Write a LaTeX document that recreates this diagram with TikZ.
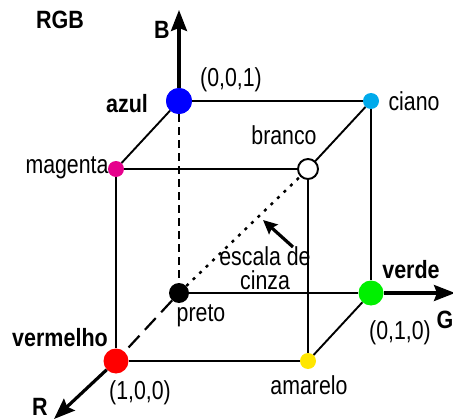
\documentclass[tikz,border=0pt]{standalone}
\usepackage{fontspec}
\setmainfont{Liberation Sans}[FakeStretch=0.82, BoldFeatures={FakeStretch=0.86}]
\usetikzlibrary{arrows.meta}

\definecolor{cyanc}{RGB}{0,170,235}
\definecolor{magc}{RGB}{230,0,140}
\definecolor{greenc}{RGB}{0,240,0}
\definecolor{yellowc}{RGB}{255,230,0}

\begin{document}
\begin{tikzpicture}[x=1pt, y=-1pt,
    corner/.style={circle, inner sep=0pt, minimum size=#1},
    edge/.style={line width=1.9pt},
    axis/.style={line width=3.2pt, -{Stealth[length=21pt, width=16pt, inset=3pt]}},
    txt/.style={font=\fontsize{26}{28}\selectfont, inner sep=0pt, align=center},
    btxt/.style={font=\fontsize{25}{28}\selectfont\bfseries, inner sep=0pt}
]
\useasboundingbox (0,0) rectangle (453,420);

% cube corners
\node[corner=26pt, fill=blue] (azul) at (179,101) {};
\node[corner=16pt, fill=cyanc] (ciano) at (371,101) {};
\node[corner=16pt, fill=magc] (magenta) at (116,169) {};
\node[corner=20pt] (branco) at (308,169) {};
\node[corner=20pt] (preto) at (179,293) {};
\node[corner=25pt] (verde) at (371,293) {};
\node[corner=25pt] (vermelho) at (116,361) {};
\node[corner=16pt, fill=yellowc] (amarelo) at (308,361) {};

\coordinate (Btip) at (179,10);
\coordinate (Gtip) at (455,293);
\coordinate (Rtip) at (54,419);
\coordinate (esctail) at (293,247);
\coordinate (eschead) at (263,220);

% edges
\draw[edge] (azul) -- (ciano);
\draw[edge] (azul) -- (magenta);
\draw[edge] (magenta) -- (branco);
\draw[edge] (ciano) -- (branco);
\draw[edge] (magenta) -- (vermelho);
\draw[edge] (branco) -- (amarelo);
\draw[edge] (ciano) -- (verde);
\draw[edge] (vermelho) -- (amarelo);
\draw[edge] (amarelo) -- (verde);
\draw[edge] (preto) -- (verde);
\draw[edge, line width=2.2pt, dash pattern=on 8pt off 5pt] (azul) -- (preto);
\draw[edge, line width=2.2pt, dash pattern=on 16pt off 8pt] (preto) -- (vermelho);
\draw[edge, line width=2.4pt, dash pattern=on 3pt off 6pt] (preto) -- (branco);

% axes
\draw[axis] (azul) -- (Btip);
\draw[axis] (verde) -- (Gtip);
\draw[axis] (vermelho) -- (Rtip);
\draw[line width=3.2pt, -{Stealth[length=14pt, width=13pt, inset=2pt]}] (esctail) -- (eschead);

% dots on top
\fill[blue] (azul) circle (13pt);
\fill[black] (preto) circle (10pt);
\fill[greenc] (verde) circle (12.5pt);
\fill[red] (vermelho) circle (12.5pt);
\draw[edge, fill=white] (branco) circle (10pt);

% labels
\node[btxt] (rgb) at (60,20) {RGB};
\node[btxt] (blabel) at (162,30) {B};
\node[btxt] (glabel) at (445,320) {G};
\node[btxt] (rlabel) at (40,407) {R};
\node[txt] (c001) at (231,80) {(0,0,1)};
\node[txt] (c010) at (400,333) {(0,1,0)};
\node[txt] (c100) at (140,393) {(1,0,0)};
\node[btxt] (azullbl) at (127,104) {azul};
\node[btxt] (verdelbl) at (411,270) {verde};
\node[btxt] (vermlbl) at (60,338) {vermelho};
\node[txt] (cianolbl) at (414,101) {ciano};
\node[txt] (brancolbl) at (284,135) {branco};
\node[txt] (maglbl) at (67,168) {magenta};
\node[txt] (pretolbl) at (201,316) {preto};
\node[txt] (amarlbl) at (309,385) {amarelo};
\node[txt] (escala) at (265,268) {escala de\\[-4pt]cinza};
\end{tikzpicture}
\end{document}
